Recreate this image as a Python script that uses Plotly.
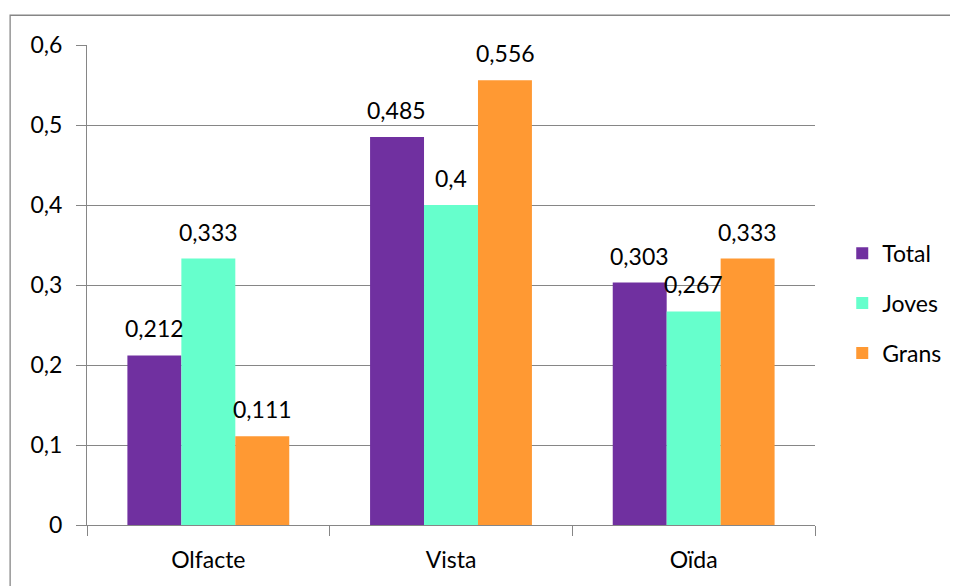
import plotly.graph_objects as go

categories = ["Olfacte", "Vista", "Oïda"]
series_names = ["Total", "Joves", "Grans"]
total = [0.212, 0.485, 0.303]
joves = [0.333, 0.4, 0.267]
grans = [0.111, 0.556, 0.333]
colors = ["#7030A0", "#66FFCC", "#FF9933"]
y_ticks = [0, 0.1, 0.2, 0.3, 0.4, 0.5, 0.6]

FONT = "Lato"
FS = 23
GRID = "#868686"

W, H = 950, 578
ML, MR, MT, MB = 79, 142, 37, 61
BARGAP = 0.333

def fmt(v):
    return ("%g" % v).replace(".", ",")

all_series = [total, joves, grans]
fig = go.Figure()
for i, (name, vals) in enumerate(zip(series_names, all_series)):
    fig.add_trace(go.Bar(
        x=categories, y=vals, name=name,
        marker=dict(color=colors[i], line=dict(width=0)),
        legendgroup=name,
    ))

# value labels above bars (shifted horizontally to each bar of the group)
plot_w = W - ML - MR
bar_w = plot_w / len(categories) * (1 - BARGAP) / len(all_series)
annotations = []
for i, vals in enumerate(all_series):
    for c, v in zip(categories, vals):
        annotations.append(dict(
            x=c, y=v, xref="x", yref="y", text=fmt(v), showarrow=False,
            xanchor="center", yanchor="bottom",
            xshift=(i - (len(all_series) - 1) / 2) * bar_w, yshift=11,
            font=dict(family=FONT, size=FS, color="black"),
        ))

fig.update_layout(
    width=W, height=H,
    margin=dict(l=ML, r=MR, t=MT, b=MB),
    paper_bgcolor="white", plot_bgcolor="white",
    barmode="group", bargap=BARGAP, bargroupgap=0,
    font=dict(family=FONT, size=FS, color="black"),
    annotations=annotations,
    legend=dict(
        x=1.036, xanchor="left", y=0.462, yanchor="middle",
        font=dict(family=FONT, size=FS, color="black"),
        traceorder="grouped", tracegroupgap=17,
        bgcolor="rgba(0,0,0,0)",
    ),
    xaxis=dict(
        showline=True, linecolor=GRID, linewidth=1,
        ticks="outside", tickson="boundaries", ticklen=10, tickcolor=GRID,
        showgrid=False, tickfont=dict(family=FONT, size=FS, color="black"),
        ticklabelstandoff=14,
    ),
    yaxis=dict(
        range=[0, 0.6], tickvals=y_ticks,
        ticktext=[fmt(v) for v in y_ticks],
        showline=True, linecolor=GRID, linewidth=1,
        ticks="outside", ticklen=10, tickcolor=GRID,
        showgrid=True, gridcolor=GRID, gridwidth=1,
        zeroline=False,
        tickfont=dict(family=FONT, size=FS, color="black"),
        ticklabelstandoff=9,
    ),
    shapes=[dict(
        type="rect", xref="paper", yref="paper",
        x0=-0.1056, x1=1.4, y0=-0.3, y1=1.062,
        line=dict(color=GRID, width=1.3), fillcolor="rgba(0,0,0,0)",
        layer="below",
    )],
)

fig.write_html("out.html")
